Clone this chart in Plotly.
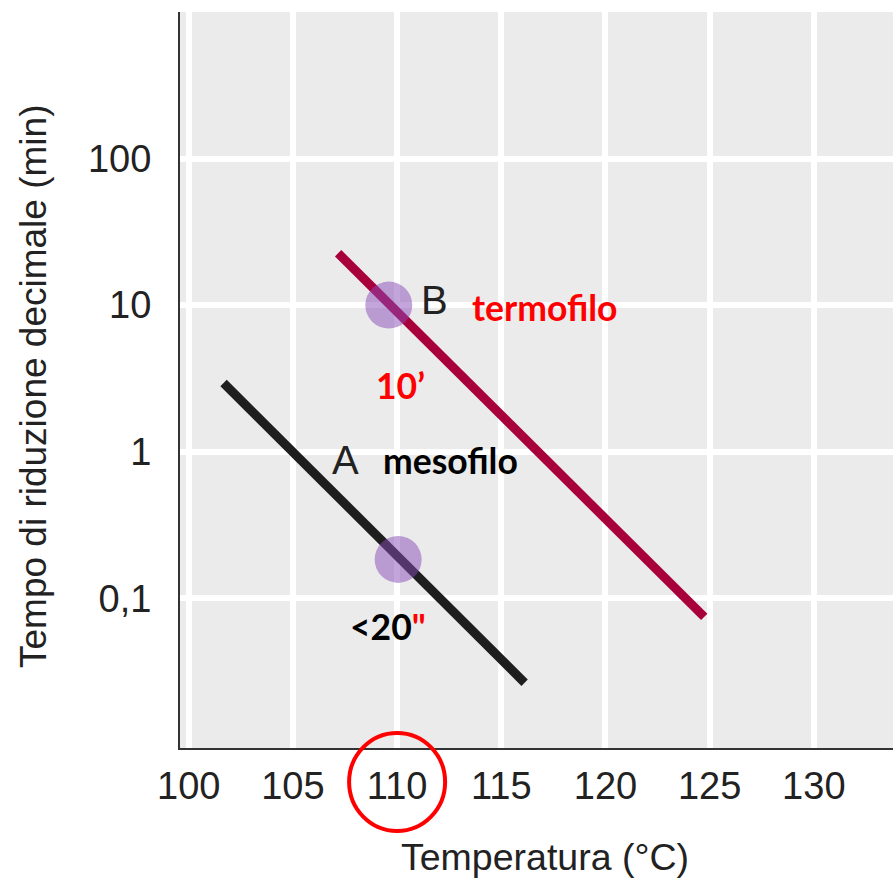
import numpy as np
import plotly.graph_objects as go

# ---- data ----
mesofilo_temp = [101.67, 116.12]      # °C
mesofilo_D = [2.94, 0.0265]           # min
termofilo_temp = [107.17, 124.74]     # °C
termofilo_D = [22.6, 0.0746]          # min
highlight_temp = [109.6, 110.05]      # B, A at 110 °C
highlight_D = [10.0, 0.184]

x_tickvals = [100, 105, 110, 115, 120, 125, 130]
y_tickvals = [0.1, 1, 10, 100]
y_ticktext = ["0,1", "1", "10", "100"]

LINE_RED = "#a8003a"
LINE_BLACK = "#1e1e1e"
BG = "#ebebeb"
TXT = "#222222"

fig = go.Figure()
fig.add_trace(go.Scatter(x=mesofilo_temp, y=mesofilo_D, mode="lines",
                         line=dict(color=LINE_BLACK, width=9), hoverinfo="skip"))
fig.add_trace(go.Scatter(x=termofilo_temp, y=termofilo_D, mode="lines",
                         line=dict(color=LINE_RED, width=9), hoverinfo="skip"))
fig.add_trace(go.Scatter(x=highlight_temp, y=highlight_D, mode="markers",
                         marker=dict(size=47, color="rgba(135,75,185,0.5)", line=dict(width=0)),
                         hoverinfo="skip"))

def ann(x, y, text, size, color, family, bold=False):
    t = f"<b>{text}</b>" if bold else text
    fig.add_annotation(x=x, y=np.log10(y), xref="x", yref="y", text=t, showarrow=False,
                       font=dict(size=size, color=color, family=family),
                       xanchor="center", yanchor="middle")

BOLDF = "Lato, Calibri, sans-serif"
HELV = "Liberation Sans, Arial, Helvetica, sans-serif"
ann(111.81, 10**1.034, "B", 40, TXT, HELV)
ann(117.07, 10**0.986, "termofilo", 35.5, "#ff0000", BOLDF, True)
ann(110.14, 10**0.454, "10’", 35.5, "#ff0000", BOLDF, True)
ann(107.5, 10**-0.057, "A", 40, TXT, HELV)
ann(112.58, 10**-0.057, "mesofilo", 35.5, "#000000", BOLDF, True)
ann(109.56, 10**-1.196, "<20<span style='color:#ff0000'>\"</span>", 35.5, "#000000", BOLDF, True)

# axis titles
fig.add_annotation(x=(33 - 180) / 713, y=(748 - 387) / 736, xref="paper", yref="paper",
                   text="Tempo di riduzione decimale (min)", textangle=-90, showarrow=False,
                   font=dict(size=37, color=TXT, family=HELV), xanchor="center", yanchor="middle")
fig.add_annotation(x=(545 - 180) / 713, y=-(857 - 748) / 736, xref="paper", yref="paper",
                   text="Temperatura (°C)", showarrow=False,
                   font=dict(size=37.5, color=TXT, family=HELV), xanchor="center", yanchor="middle")

# red circle around the 110 tick label
fig.add_shape(type="circle", xref="x", yref="paper", xsizemode="pixel", ysizemode="pixel",
              xanchor=110, yanchor=0, x0=-48, x1=48, y0=-83, y1=15,
              line=dict(color="#ff0000", width=4), fillcolor="rgba(0,0,0,0)", layer="above")

fig.update_layout(
    width=893, height=878,
    margin=dict(l=180, r=0, t=12, b=130),
    paper_bgcolor="white", plot_bgcolor=BG,
    showlegend=False,
    font=dict(family=HELV, color=TXT),
)
fig.update_xaxes(range=[99.58, 133.8], tickvals=x_tickvals, showgrid=True, gridcolor="white",
                 gridwidth=6, zeroline=False, showline=True, linecolor="#333333", linewidth=2,
                 ticks="", tickfont=dict(size=38, color=TXT, family=HELV), ticklabelstandoff=3)
fig.update_yaxes(type="log", range=[-2.022, 3.0], tickvals=y_tickvals, ticktext=y_ticktext,
                 showgrid=True, gridcolor="white", gridwidth=6, zeroline=False, showline=True,
                 linecolor="#333333", linewidth=2, ticks="",
                 tickfont=dict(size=38, color=TXT, family=HELV), ticklabelstandoff=19)

# remove the page's default body margin and scrollbars so the figure fills the window
fig.write_html(
    "out.html",
    config={"displayModeBar": False},
    post_script=("document.body.style.margin='0';"
                 "document.body.style.overflow='hidden';"
                 "document.documentElement.style.overflow='hidden';"),
)
